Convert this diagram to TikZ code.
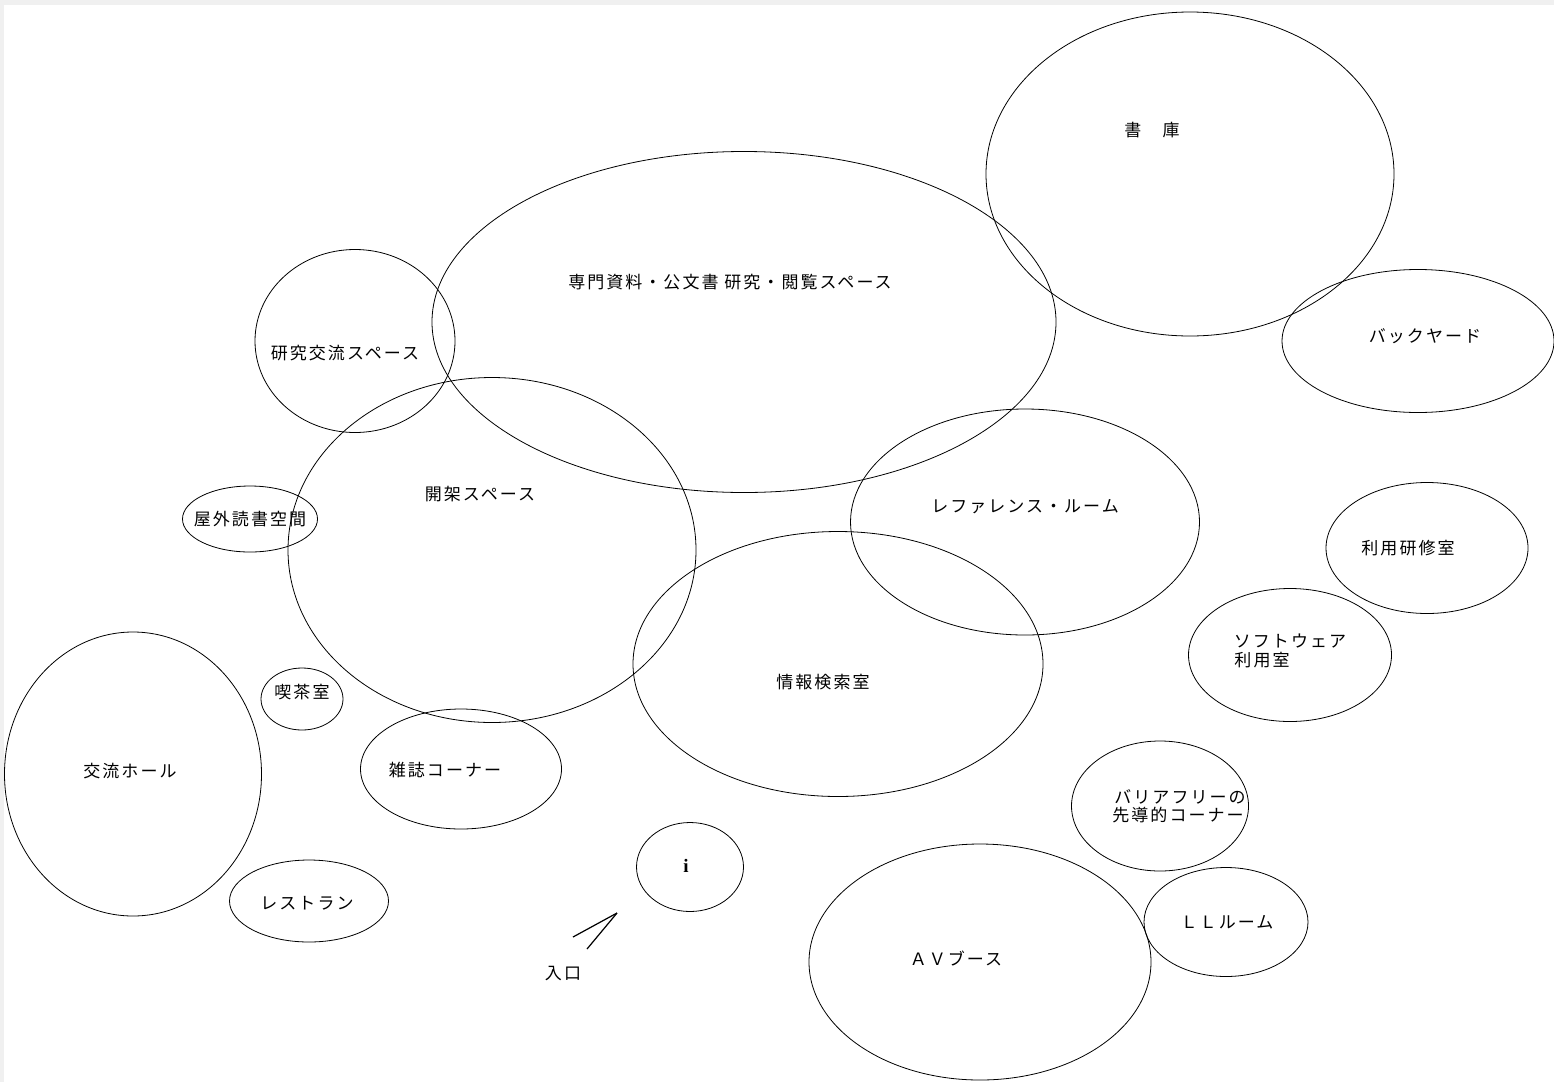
\documentclass[tikz,border=0pt]{standalone}
\usepackage{fontspec}
\setmainfont{Noto Sans CJK JP}[LetterSpace=12]
\usetikzlibrary{shapes.geometric}
\begin{document}
\begin{tikzpicture}[x=1pt,y=-1pt,
  room/.style={draw=black,line width=0.8pt,ellipse,inner sep=0pt},
  lbl/.style={font=\fontsize{17}{18}\selectfont,inner sep=0pt,text=black}]
\fill[gray!12] (0,0) rectangle (1554,1082);
\fill[white] (4,5) rectangle (1554,1082);
\useasboundingbox (0,0) rectangle (1554,1082);
% ellipses
\node[room,minimum width=408,minimum height=324] (shoko) at (1190,174) {};
\node[room,minimum width=624,minimum height=341] (senmon) at (744,322) {};
\node[room,minimum width=200,minimum height=183] (kenkyu) at (355,341) {};
\node[room,minimum width=272,minimum height=143] (back) at (1418,341) {};
\node[room,minimum width=408,minimum height=345] (kaika) at (492,550) {};
\node[room,minimum width=135,minimum height=66] (okugai) at (250,519) {};
\node[room,minimum width=349,minimum height=226] (ref) at (1025,522) {};
\node[room,minimum width=410,minimum height=265] (joho) at (838,664) {};
\node[room,minimum width=202,minimum height=131] (kenshu) at (1427,548) {};
\node[room,minimum width=203,minimum height=133] (soft) at (1290,655) {};
\node[room,minimum width=82,minimum height=62] (kissa) at (302,699) {};
\node[room,minimum width=257,minimum height=284] (hall) at (133,774) {};
\node[room,minimum width=201,minimum height=120] (zasshi) at (461,769) {};
\node[room,minimum width=177,minimum height=130] (barrier) at (1160,806) {};
\node[room,minimum width=107,minimum height=89] (info) at (690,867) {};
\node[room,minimum width=159,minimum height=82] (rest) at (309,901) {};
\node[room,minimum width=342,minimum height=236] (av) at (980,962) {};
\node[room,minimum width=164,minimum height=109] (ll) at (1226,922) {};
% labels
\node[lbl] (tshoko) at (1152,130) {書　庫};
\node[lbl] (tsenmon) at (730,282) {専門資料・公文書 研究・閲覧スペース};
\node[lbl] (tkenkyu) at (345,353) {研究交流スペース};
\node[lbl] (tback) at (1425,336) {バックヤード};
\node[lbl] (tkaika) at (480,494) {開架スペース};
\node[lbl] (tokugai) at (250,519) {屋外読書空間};
\node[lbl] (tref) at (1025,507) {レファレンス・ルーム};
\node[lbl] (tjoho) at (823,682) {情報検索室};
\node[lbl] (tkenshu) at (1408,548) {利用研修室};
\node[lbl] (tsoft1) at (1290,641) {ソフトウェア};
\node[lbl] (tsoft2) at (1262,660) {利用室};
\node[lbl] (tkissa) at (302,692) {喫茶室};
\node[lbl] (thall) at (130,771) {交流ホール};
\node[lbl] (tzasshi) at (445,770) {雑誌コーナー};
\node[lbl] (tbar1) at (1180,797) {バリアフリーの};
\node[lbl] (tbar2) at (1178,815) {先導的コーナー};
\node[inner sep=0pt] (ti) at (686,866) {\fontspec{Liberation Serif}\fontsize{19}{20}\selectfont\bfseries i};
\node[lbl] (trest) at (307,903) {レストラン};
\node[lbl] (tav) at (956,958) {ＡＶブース};
\node[lbl] (tll) at (1227,922) {ＬＬルーム};
\node[lbl] (tentr) at (563,974) {入口};
% entrance arrow
\coordinate (tip) at (617,913);
\coordinate (a1) at (573,937);
\coordinate (a2) at (587,949);
\draw[line width=1.2pt] (a1) -- (tip);
\draw[line width=1.2pt] (a2) -- (tip);
\end{tikzpicture}
\end{document}
